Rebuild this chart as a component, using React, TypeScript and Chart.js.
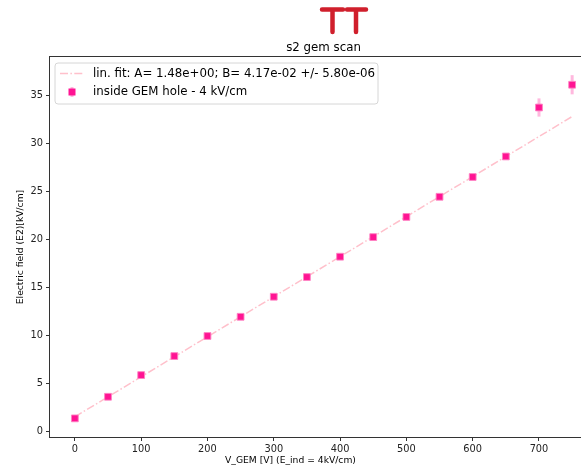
import React, { useEffect, useRef } from "react";
import { Chart, registerables } from "chart.js";

Chart.register(...registerables);

const vGem = [0, 50, 100, 150, 200, 250, 300, 350, 400, 450, 500, 550, 600, 650, 700, 750];
const eField = [1.32, 3.57, 5.83, 7.81, 9.9, 11.9, 13.99, 16.04, 18.16, 20.2, 22.3, 24.4, 26.46, 28.6, 33.7, 36.07];
const eFieldErr = [0.1, 0.1, 0.1, 0.1, 0.1, 0.1, 0.1, 0.1, 0.1, 0.1, 0.1, 0.1, 0.1, 0.1, 0.95, 1.0];
const fitX = [0, 750];
const fitY = [1.48, 32.76];
const xTicks = [0, 100, 200, 300, 400, 500, 600, 700];
const yTicks = [0, 5, 10, 15, 20, 25, 30, 35];

const title = "s2 gem scan";
const xTitle = "V_GEM [V] (E_ind = 4kV/cm)";
const yTitle = "Electric field (E2)[kV/cm]";
const fitLabel = "lin. fit: A= 1.48e+00; B= 4.17e-02 +/- 5.80e-06";
const dataLabel = "inside GEM hole - 4 kV/cm";

const FONT = "'DejaVu Sans', sans-serif";
const PINK = "#ffc0cb";
const DEEP = "#ff1493";
const ERR = "rgba(255, 20, 147, 0.3)";
const DASH = [8, 2.4, 1.5, 2.4];

export default function App() {
  const ref = useRef<HTMLCanvasElement | null>(null);

  useEffect(() => {
    const canvas = ref.current;
    if (!canvas) return;

    const errorBars = {
      id: "errorBars",
      beforeDatasetDraw(chart: any, args: any) {
        if (args.index !== 0) return;
        const { ctx, scales } = chart;
        ctx.save();
        ctx.strokeStyle = ERR;
        ctx.lineWidth = 3;
        vGem.forEach((x, i) => {
          const px = scales.x.getPixelForValue(x);
          const y1 = scales.y.getPixelForValue(eField[i] - eFieldErr[i]);
          const y2 = scales.y.getPixelForValue(eField[i] + eFieldErr[i]);
          ctx.beginPath();
          ctx.moveTo(px, y1);
          ctx.lineTo(px, y2);
          ctx.stroke();
        });
        ctx.restore();
      },
    };

    const decor = {
      id: "decor",
      afterDraw(chart: any) {
        const { ctx, chartArea: a } = chart;
        ctx.save();
        // frame
        ctx.strokeStyle = "#333";
        ctx.lineWidth = 1;
        ctx.strokeRect(Math.round(a.left) - 0.5, Math.round(a.top) - 0.5, a.right - a.left, a.bottom - a.top + 1);
        // title
        ctx.fillStyle = "#000";
        ctx.font = `11.8px ${FONT}`;
        ctx.textAlign = "center";
        ctx.textBaseline = "middle";
        ctx.fillText(title, (a.left + a.right) / 2, 48);
        // x axis title
        ctx.font = `9.2px ${FONT}`;
        ctx.fillText(xTitle, 290.5, 461);
        // logo
        ctx.strokeStyle = "#d01f2c";
        ctx.lineWidth = 4.5;
        ctx.lineCap = "round";
        ctx.beginPath();
        ctx.moveTo(322, 9.5); ctx.lineTo(343, 9.5);
        ctx.moveTo(332.5, 9.5); ctx.lineTo(332.5, 32);
        ctx.moveTo(347, 9.5); ctx.lineTo(366, 9.5);
        ctx.moveTo(356, 9.5); ctx.lineTo(356, 32);
        ctx.stroke();
        // legend
        ctx.lineCap = "butt";
        const bx = 55, by = 63, bw = 323, bh = 41, r = 3;
        ctx.beginPath();
        ctx.moveTo(bx + r, by);
        ctx.arcTo(bx + bw, by, bx + bw, by + bh, r);
        ctx.arcTo(bx + bw, by + bh, bx, by + bh, r);
        ctx.arcTo(bx, by + bh, bx, by, r);
        ctx.arcTo(bx, by, bx + bw, by, r);
        ctx.closePath();
        ctx.fillStyle = "rgba(255,255,255,0.8)";
        ctx.fill();
        ctx.strokeStyle = "#d6d6d6";
        ctx.lineWidth = 1;
        ctx.stroke();
        ctx.strokeStyle = PINK;
        ctx.lineWidth = 1.5;
        ctx.setLineDash(DASH);
        ctx.beginPath();
        ctx.moveTo(60, 73.5);
        ctx.lineTo(84, 73.5);
        ctx.stroke();
        ctx.setLineDash([]);
        ctx.strokeStyle = ERR;
        ctx.lineWidth = 3;
        ctx.beginPath();
        ctx.moveTo(72, 87);
        ctx.lineTo(72, 97);
        ctx.stroke();
        ctx.fillStyle = DEEP;
        ctx.fillRect(68.5, 88.5, 7, 7);
        ctx.fillStyle = "#000";
        ctx.font = `11.8px ${FONT}`;
        ctx.textAlign = "left";
        ctx.textBaseline = "middle";
        ctx.fillText(fitLabel, 93, 73.5);
        ctx.fillText(dataLabel, 93, 92);
        ctx.restore();
      },
    };

    const chart = new Chart(canvas, {
      type: "scatter",
      data: {
        datasets: [
          {
            label: dataLabel,
            data: vGem.map((x, i) => ({ x, y: eField[i] })),
            pointStyle: "rect",
            pointRadius: 4.8,
            backgroundColor: DEEP,
            borderColor: "rgba(255, 130, 195, 0.9)",
            borderWidth: 1,
            showLine: false,
          },
          {
            label: fitLabel,
            type: "line",
            data: fitX.map((x, i) => ({ x, y: fitY[i] })),
            borderColor: PINK,
            borderWidth: 1.5,
            borderDash: DASH,
            pointRadius: 0,
            fill: false,
          },
        ],
      },
      options: {
        animation: false,
        responsive: false,
        devicePixelRatio: 1,
        layout: { padding: { top: 57, right: 23, left: 0, bottom: 0 } },
        plugins: { legend: { display: false }, tooltip: { enabled: false }, title: { display: false } },
        scales: {
          x: {
            type: "linear",
            min: -37.5,
            max: 787.5,
            afterBuildTicks: (s: any) => {
              s.ticks = xTicks.map((v) => ({ value: v }));
            },
            afterFit: (s: any) => {
              s.height = 31;
            },
            grid: { drawOnChartArea: false, drawTicks: true, tickLength: 4, color: "#333" },
            border: { display: false },
            ticks: { font: { family: FONT, size: 9.8 }, color: "#222", padding: 3, maxRotation: 0 },
            title: { display: false },
          },
          y: {
            type: "linear",
            min: -0.62,
            max: 38.96,
            afterBuildTicks: (s: any) => {
              s.ticks = yTicks.map((v) => ({ value: v }));
            },
            afterFit: (s: any) => {
              s.width = 50;
            },
            grid: { drawOnChartArea: false, drawTicks: true, tickLength: 4, color: "#333" },
            border: { display: false },
            ticks: { font: { family: FONT, size: 9.8 }, color: "#222", padding: 3 },
            title: { display: true, text: yTitle, font: { family: FONT, size: 9.2 }, color: "#000", padding: { top: 15, bottom: 0 } },
          },
        },
      },
      plugins: [errorBars, decor],
    });

    return () => chart.destroy();
  }, []);

  return (
    <div style={{ position: "fixed", left: 0, top: 0, width: 581, height: 468, overflow: "hidden", background: "#fff" }}>
      <canvas ref={ref} width={620} height={468} style={{ width: 620, height: 468, display: "block" }} />
    </div>
  );
}
